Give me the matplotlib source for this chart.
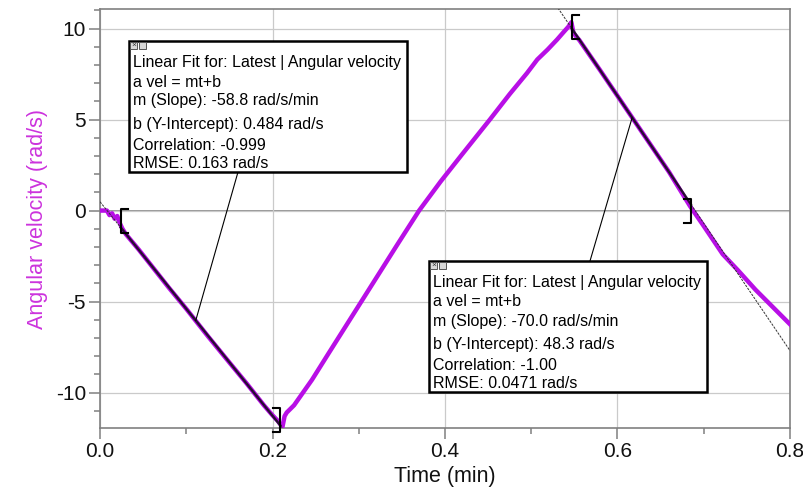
import matplotlib
matplotlib.use('Agg')
import matplotlib.pyplot as plt
from matplotlib.patches import Rectangle
from matplotlib.ticker import MultipleLocator, FormatStrFormatter
import numpy as np

plt.rcParams['font.family'] = ['Liberation Sans', 'DejaVu Sans']
plt.rcParams['axes.unicode_minus'] = False

# ---------------- data ----------------
time_min = [0.000, 0.008, 0.011, 0.014, 0.017, 0.020, 0.023, 0.026, 0.030, 0.045,
            0.060, 0.080, 0.100, 0.125, 0.150, 0.170, 0.190, 0.200, 0.206, 0.2115,
            0.214, 0.2165, 0.225, 0.2458, 0.265, 0.285, 0.303, 0.325, 0.345, 0.370,
            0.395, 0.420, 0.452, 0.475, 0.495, 0.507, 0.519, 0.530, 0.537, 0.543,
            0.5465, 0.549, 0.556, 0.580, 0.600, 0.620, 0.640, 0.660, 0.684, 0.700,
            0.722, 0.740, 0.760, 0.780, 0.800]
ang_vel = [0.00, 0.00, -0.25, -0.15, -0.45, -0.30, -0.70, -1.00, -1.30, -2.15,
           -3.05, -4.25, -5.40, -6.90, -8.35, -9.50, -10.70, -11.25, -11.55, -11.90,
           -11.30, -11.10, -10.70, -9.30, -7.85, -6.35, -5.00, -3.35, -1.85, 0.00,
           1.60, 3.10, 5.00, 6.40, 7.55, 8.30, 8.85, 9.40, 9.78, 10.10,
           10.35, 9.75, 9.35, 7.70, 6.30, 4.90, 3.50, 2.10, 0.25, -0.85,
           -2.40, -3.30, -4.35, -5.30, -6.25]

fit_slopes = [-58.8, -70.0]          # rad/s/min
fit_intercepts = [0.484, 48.3]       # rad/s
fit_corr = ["-0.999", "-1.00"]
fit_rmse = ["0.163", "0.0471"]
fit_starts = [0.024, 0.547]
fit_ends = [0.209, 0.685]
bracket_left_y = [-0.55, 10.10]
bracket_right_y = [-11.50, 0.00]
leader_t = [0.111, 0.617]

x_ticks = [0.0, 0.2, 0.4, 0.6, 0.8]
y_ticks = [-10, -5, 0, 5, 10]

# ---------------- figure ----------------
W, H = 804, 498
fig = plt.figure(figsize=(W / 100, H / 100), dpi=100)
ax = fig.add_axes([100 / W, (H - 428) / H, 690 / W, (428 - 9.5) / H])

line_color = '#B80FE6'
label_color = '#CC33DD'
grey = '#808080'

ax.set_xlim(0.0, 0.8)
ax.set_ylim(-11.95, 11.05)

ax.grid(True, which='major', color='#CACACA', lw=0.9, zorder=0)
ax.axhline(0, color='#8C8C8C', lw=1.3, zorder=1)

ax.plot(time_min, ang_vel, color=line_color, lw=3.2, solid_joinstyle='round',
        zorder=3)

tt = np.array([0.0, 0.8])
for m, b, t0, t1, yl, yr in zip(fit_slopes, fit_intercepts, fit_starts, fit_ends,
                                bracket_left_y, bracket_right_y):
    ax.plot(tt, m * tt + b, color='#333333', lw=0.7, ls=(0, (2.5, 1.2)), zorder=4)
    ts = np.array([t0, t1])
    ax.plot(ts, m * ts + b, color='#1a0a22', lw=1.8, alpha=0.85, zorder=4)
    hh = 0.66
    sw = 0.008
    ax.plot([t0 + sw, t0, t0, t0 + sw], [yl + hh, yl + hh, yl - hh, yl - hh],
            color='black', lw=1.5, zorder=6, clip_on=False)
    ax.plot([t1 - sw, t1, t1, t1 - sw], [yr + hh, yr + hh, yr - hh, yr - hh],
            color='black', lw=1.5, zorder=6, clip_on=False)

for s in ax.spines.values():
    s.set_color(grey)
    s.set_linewidth(1.2)

ax.set_xticks(x_ticks)
ax.set_yticks(y_ticks)
ax.xaxis.set_major_formatter(FormatStrFormatter('%.1f'))
ax.xaxis.set_minor_locator(MultipleLocator(0.1))
ax.yaxis.set_minor_locator(MultipleLocator(1))
ax.tick_params(which='major', direction='out', length=8, width=1.1, color=grey,
               labelsize=15, labelcolor='#111111', pad=2)
ax.tick_params(which='minor', direction='out', length=4.5, width=1.1, color=grey)

ax.set_xlabel('Time (min)', fontsize=15.5, color='#111111', labelpad=4)
ax.set_ylabel('Angular velocity (rad/s)', fontsize=15.5, color=label_color,
              labelpad=6)

# ---------------- fit annotation boxes ----------------
box_pos = [(129, 41), (429, 261)]      # top-left in pixels
leader_start = [(238, 172), (590, 261)]
bw, bh = 278, 131
line_offsets = [22, 41, 60, 83, 104, 122]

for i in range(2):
    bx, by = box_pos[i]
    m, b = fit_slopes[i], fit_intercepts[i]
    ax.annotate('', xy=(leader_t[i], m * leader_t[i] + b), xycoords='data',
                xytext=(leader_start[i][0], H - leader_start[i][1]),
                textcoords='figure pixels', annotation_clip=False,
                arrowprops=dict(arrowstyle='-', color='black', lw=0.8,
                                shrinkA=0, shrinkB=0), zorder=5)
    rect = Rectangle((bx / W, (H - by - bh) / H), bw / W, bh / H,
                     transform=fig.transFigure, facecolor='white',
                     edgecolor='black', lw=1.8, zorder=10)
    fig.add_artist(rect)
    for k in range(2):
        ic = Rectangle(((bx + 1 + 9 * k) / W, (H - by - 8) / H), 7 / W, 7 / H,
                       transform=fig.transFigure, facecolor='#D8D8D8',
                       edgecolor='#555555', lw=0.7, zorder=11)
        fig.add_artist(ic)
    fig.text((bx + 2.5) / W, (H - by - 4.5) / H, '×', fontsize=6, ha='left',
             va='center', color='#333333', zorder=12)
    lines = ["Linear Fit for: Latest | Angular velocity",
             "a vel = mt+b",
             f"m (Slope): {m:#.3g} rad/s/min",
             f"b (Y-Intercept): {b:#.3g} rad/s",
             f"Correlation: {fit_corr[i]}",
             f"RMSE: {fit_rmse[i]} rad/s"]
    for txt, off in zip(lines, line_offsets):
        fig.text((bx + 4) / W, (H - by - off) / H, txt, fontsize=11.5,
                 ha='left', va='center', color='black', zorder=12)

fig.savefig('out.png', dpi=100)
